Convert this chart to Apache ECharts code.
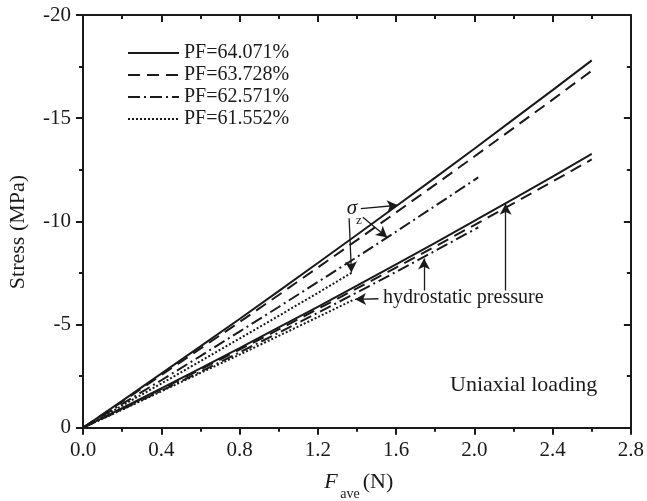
<!DOCTYPE html>
<html>
<head>
<meta charset="utf-8">
<script src="https://cdn.jsdelivr.net/npm/echarts@6/dist/echarts.min.js"></script>
<style>
html,body{margin:0;padding:0;background:#fff;}
#c{width:647px;height:501px;}
</style>
</head>
<body>
<div id="c"></div>
<script>
// ---- data ----
const legendNames = ['PF=64.071%', 'PF=63.728%', 'PF=62.571%', 'PF=61.552%'];
const xTicks = [0, 0.4, 0.8, 1.2, 1.6, 2.0, 2.4, 2.8];
const yTicks = [-20, -15, -10, -5, 0];

const F_6407 = [0, 0.2, 0.4, 0.6, 0.8, 1.0, 1.2, 1.4, 1.6, 1.8, 2.0, 2.2, 2.4, 2.6];
const sz_6407 = [0, -1.30, -2.62, -3.94, -5.27, -6.62, -7.98, -9.35, -10.73, -12.12, -13.52, -14.94, -16.36, -17.80];
const hp_6407 = [0, -0.95, -1.91, -2.88, -3.86, -4.86, -5.86, -6.88, -7.92, -8.96, -10.02, -11.09, -12.17, -13.27];

const F_6373 = [0, 0.2, 0.4, 0.6, 0.8, 1.0, 1.2, 1.4, 1.6, 1.8, 2.0, 2.2, 2.4, 2.6];
const sz_6373 = [0, -1.26, -2.55, -3.83, -5.12, -6.43, -7.76, -9.09, -10.43, -11.78, -13.14, -14.52, -15.90, -17.30];
const hp_6373 = [0, -0.93, -1.87, -2.82, -3.78, -4.76, -5.75, -6.75, -7.76, -8.78, -9.82, -10.87, -11.93, -13.00];

const F_6257 = [0, 0.2, 0.4, 0.6, 0.8, 1.0, 1.2, 1.4, 1.6, 1.8, 2.02];
const sz_6257 = [0, -1.15, -2.30, -3.47, -4.66, -5.85, -7.06, -8.27, -9.50, -10.75, -12.13];
const hp_6257 = [0, -0.89, -1.79, -2.71, -3.65, -4.60, -5.57, -6.55, -7.55, -8.57, -9.71];

const F_6155 = [0, 0.2, 0.4, 0.6, 0.8, 1.0, 1.2, 1.38];
const sz_6155 = [0, -1.07, -2.14, -3.22, -4.32, -5.42, -6.53, -7.55];
const hp_6155 = [0, -0.87, -1.76, -2.65, -3.54, -4.45, -5.36, -6.19];

// annotation arrows (data coordinates): [from, to]
const sigmaArrows = [
  [[1.42, -10.62], [1.61, -10.78]],
  [[1.43, -10.20], [1.555, -9.22]],
  [[1.36, -10.15], [1.372, -7.52]]
];
const hydroArrows = [
  [[1.51, -6.25], [1.39, -6.22]],
  [[1.743, -6.65], [1.743, -8.20]],
  [[2.16, -6.65], [2.16, -10.85]]
];

// ---- chart ----
const FONT = "'Liberation Serif','Times New Roman',serif";
const INK = '#1a1a1a';
const zip = (xs, ys) => xs.map((x, i) => [x, ys[i]]);

const styles = [
  { type: 'solid' },
  { type: [12, 7] },
  { type: [12, 4, 2, 4] },
  { type: [2, 2] }
];
const groups = [
  [F_6407, sz_6407, hp_6407],
  [F_6373, sz_6373, hp_6373],
  [F_6257, sz_6257, hp_6257],
  [F_6155, sz_6155, hp_6155]
];

const series = [];
groups.forEach((g, k) => {
  [g[1], g[2]].forEach(vals => {
    series.push({
      type: 'line',
      name: legendNames[k],
      data: zip(g[0], vals),
      symbol: 'none',
      smooth: false,
      lineStyle: { color: INK, width: 2, type: styles[k].type },
      itemStyle: { color: INK },
      z: 3
    });
  });
});

const arrowLine = (pairs) => ({
  silent: true,
  symbol: ['none', 'arrow'],
  symbolSize: [9, 11],
  label: { show: false },
  lineStyle: { color: INK, width: 1.3, type: 'solid' },
  animation: false,
  data: pairs.map(p => [{ coord: p[0] }, { coord: p[1] }])
});
series.push({
  type: 'line', data: [], symbol: 'none', silent: true,
  markLine: arrowLine(sigmaArrows.concat(hydroArrows))
});

const axisCommon = {
  type: 'value',
  axisLine: { show: true, onZero: false, lineStyle: { color: INK, width: 2 } },
  splitLine: { show: false },
  minorTick: { show: true, splitNumber: 2, length: 4, lineStyle: { color: INK, width: 2 } },
  axisTick: { show: true, length: 7, lineStyle: { color: INK, width: 2 } }
};

const option = {
  animation: false,
  backgroundColor: '#fff',
  grid: { left: 83, right: 14.5, top: 15, bottom: 73.3, containLabel: false },
  legend: {
    left: 122, top: 38, orient: 'vertical',
    itemWidth: 51, itemHeight: 14, itemGap: 2,
    data: legendNames,
    itemStyle: { opacity: 0 },
    textStyle: { fontFamily: FONT, fontSize: 20, color: INK, lineHeight: 20 },
    inactiveColor: INK,
    selectedMode: false
  },
  xAxis: [
    Object.assign({}, axisCommon, {
      position: 'bottom', min: 0, max: 2.8, interval: 0.4,
      axisTick: Object.assign({}, axisCommon.axisTick, { inside: false }),
      axisLabel: {
        fontFamily: FONT, fontSize: 21, color: INK, margin: 12,
        formatter: v => (xTicks.indexOf(+v.toFixed(1)) >= 0 ? v.toFixed(1) : '')
      }
    }),
    Object.assign({}, axisCommon, {
      position: 'top', min: 0, max: 2.8, interval: 0.4,
      axisTick: Object.assign({}, axisCommon.axisTick, { inside: true }),
      axisLabel: { show: false }
    })
  ],
  yAxis: [
    Object.assign({}, axisCommon, {
      position: 'left', min: -20, max: 0, interval: 5, inverse: true,
      axisTick: Object.assign({}, axisCommon.axisTick, { inside: false }),
      axisLabel: {
        fontFamily: FONT, fontSize: 21, color: INK, margin: 12,
        formatter: v => (yTicks.indexOf(v) >= 0 ? String(v) : '')
      }
    }),
    Object.assign({}, axisCommon, {
      position: 'right', min: -20, max: 0, interval: 5, inverse: true,
      axisTick: Object.assign({}, axisCommon.axisTick, { inside: true }),
      axisLabel: { show: false }
    })
  ],
  series: series,
  graphic: [
    { type: 'text', x: 18, y: 232, rotation: Math.PI / 2,
      style: { text: 'Stress (MPa)', font: "22px " + FONT, fill: INK, align: 'center', verticalAlign: 'middle' } },
    { type: 'text', x: 331, y: 482,
      style: { text: 'F', font: "italic 22px " + FONT, fill: INK, align: 'center', verticalAlign: 'middle' } },
    { type: 'text', x: 350, y: 494,
      style: { text: 'ave', font: "14px " + FONT, fill: INK, align: 'center', verticalAlign: 'middle' } },
    { type: 'text', x: 378, y: 482,
      style: { text: '(N)', font: "22px " + FONT, fill: INK, align: 'center', verticalAlign: 'middle' } },
    { type: 'text', x: 352, y: 208,
      style: { text: 'σ', font: "italic 21px " + FONT, fill: INK, align: 'center', verticalAlign: 'middle' } },
    { type: 'text', x: 359, y: 221,
      style: { text: 'z', font: "13px " + FONT, fill: INK, align: 'center', verticalAlign: 'middle' } },
    { type: 'text', x: 383, y: 298,
      style: { text: 'hydrostatic pressure', font: "20px " + FONT, fill: INK, align: 'left', verticalAlign: 'middle' } },
    { type: 'text', x: 450, y: 385,
      style: { text: 'Uniaxial loading', font: "22px " + FONT, fill: INK, align: 'left', verticalAlign: 'middle' } }
  ]
};

const chart = echarts.init(document.getElementById('c'), null, { renderer: 'canvas' });
chart.setOption(option);
</script>
</body>
</html>
